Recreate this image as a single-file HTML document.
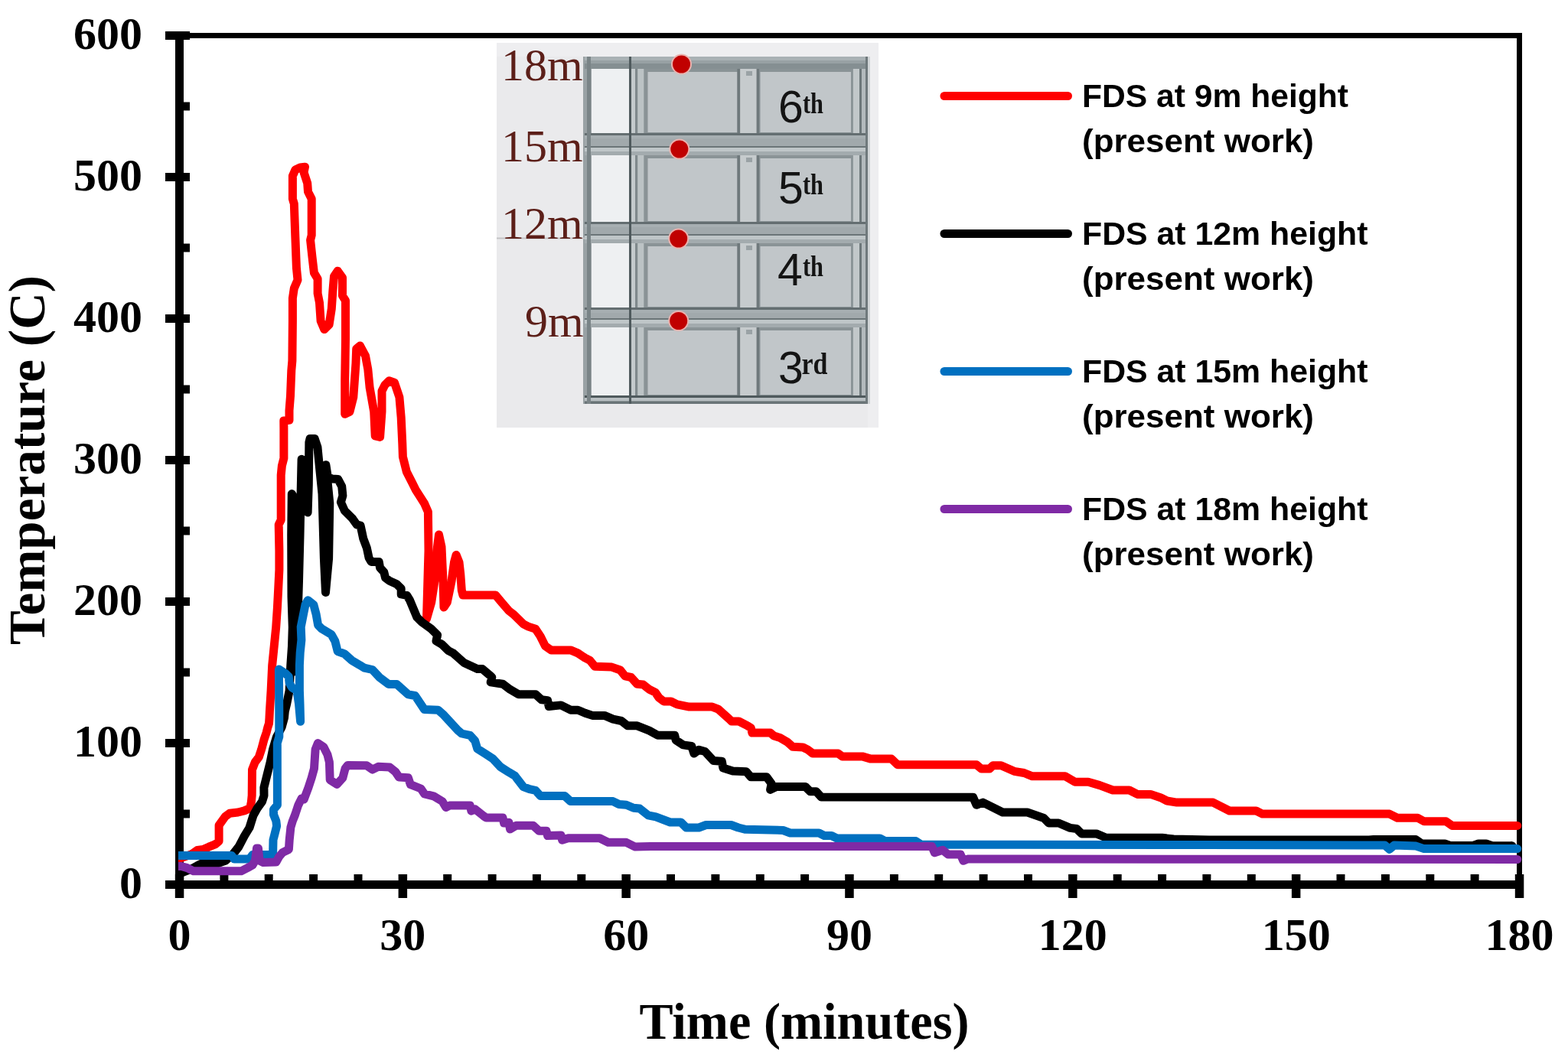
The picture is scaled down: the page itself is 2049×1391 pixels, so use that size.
<!DOCTYPE html><html><head><meta charset="utf-8"><title>Temperature vs Time</title>
<style>html,body{margin:0;padding:0;background:#fff;overflow:hidden;}svg{display:block;}.tk{font-family:"Liberation Serif",serif;font-weight:bold;font-size:60px;fill:#000;}.ttl{font-family:"Liberation Serif",serif;font-weight:bold;font-size:67px;fill:#000;}.lg{font-family:"Liberation Sans",sans-serif;font-weight:bold;font-size:43px;fill:#000;}.hm{font-family:"Liberation Serif",serif;font-size:60px;fill:#5c1f19;}.fl{font-family:"Liberation Sans",sans-serif;font-size:59px;fill:#141414;}.sup{font-family:"Liberation Serif",serif;font-weight:bold;font-size:38px;fill:#141414;}</style></head><body>
<svg width="2049" height="1391" viewBox="0 0 2049 1391">
<rect x="0" y="0" width="2049" height="1391" fill="#fff"/>
<g id="inset">
<rect x="649" y="56" width="499" height="503" fill="#eaeaec"/>
<rect x="649" y="56" width="499" height="18" fill="#eeeef0"/>
<rect x="1134" y="56" width="14" height="503" fill="#eeeef0"/>
<rect x="762" y="74" width="373" height="454" fill="#99a1a4"/>
<rect x="764" y="74" width="369" height="5" fill="#a9b1b4"/>
<rect x="764" y="79" width="369" height="4" fill="#98a1a4"/>
<rect x="764" y="83" width="369" height="7" fill="#858f92"/>
<rect x="764" y="174" width="369" height="3" fill="#646e71"/>
<rect x="764" y="177" width="369" height="4" fill="#a7afb2"/>
<rect x="764" y="181" width="369" height="10" fill="#a1a9ac"/>
<rect x="764" y="191" width="369" height="2" fill="#6b7578"/>
<rect x="764" y="193" width="369" height="5" fill="#bfc6c8"/>
<rect x="764" y="198" width="369" height="5" fill="#a3abae"/>
<rect x="764" y="290" width="369" height="3" fill="#646e71"/>
<rect x="764" y="293" width="369" height="4" fill="#a7afb2"/>
<rect x="764" y="297" width="369" height="9" fill="#a1a9ac"/>
<rect x="764" y="306" width="369" height="2" fill="#6b7578"/>
<rect x="764" y="308" width="369" height="5" fill="#bfc6c8"/>
<rect x="764" y="313" width="369" height="5" fill="#a3abae"/>
<rect x="764" y="402" width="369" height="3" fill="#646e71"/>
<rect x="764" y="405" width="369" height="4" fill="#a7afb2"/>
<rect x="764" y="409" width="369" height="7" fill="#a1a9ac"/>
<rect x="764" y="416" width="369" height="2" fill="#6b7578"/>
<rect x="764" y="418" width="369" height="5" fill="#bfc6c8"/>
<rect x="764" y="423" width="369" height="5" fill="#a3abae"/>
<rect x="764" y="517" width="369" height="3" fill="#4f5a5d"/>
<rect x="764" y="520" width="369" height="4.5" fill="#b8bfc2"/>
<rect x="764" y="524.5" width="369" height="3.5" fill="#6a7477"/>
<rect x="773" y="90" width="49" height="84" fill="#eef0f2"/>
<rect x="825" y="90" width="5" height="84" fill="#c4cacc"/>
<rect x="830" y="90" width="3.3" height="84" fill="#7f898c"/>
<rect x="833.3" y="90" width="8.2" height="84" fill="#bcc3c5"/>
<rect x="841.5" y="90" width="125.7" height="84" fill="#8a9396"/>
<rect x="846.5" y="94" width="117" height="79" fill="#c1c6c9"/>
<rect x="963.4" y="90" width="3.8" height="84" fill="#6f797c"/>
<rect x="967.2" y="90" width="21.5" height="84" fill="#c6cbcd"/>
<rect x="975" y="93" width="8" height="6" fill="#9aa2a5"/>
<rect x="988.7" y="90" width="3.8" height="84" fill="#6f797c"/>
<rect x="992.5" y="90" width="122" height="84" fill="#8a9396"/>
<rect x="993.5" y="94" width="118.5" height="79" fill="#c1c6c9"/>
<rect x="1115" y="90" width="8" height="84" fill="#c2c8ca"/>
<rect x="1123" y="90" width="3" height="84" fill="#6d777a"/>
<rect x="1126" y="90" width="5" height="84" fill="#b3babd"/>
<rect x="773" y="203" width="49" height="87" fill="#eef0f2"/>
<rect x="825" y="203" width="5" height="87" fill="#c4cacc"/>
<rect x="830" y="203" width="3.3" height="87" fill="#7f898c"/>
<rect x="833.3" y="203" width="8.2" height="87" fill="#bcc3c5"/>
<rect x="841.5" y="203" width="125.7" height="87" fill="#8a9396"/>
<rect x="846.5" y="207" width="117" height="82" fill="#c1c6c9"/>
<rect x="963.4" y="203" width="3.8" height="87" fill="#6f797c"/>
<rect x="967.2" y="203" width="21.5" height="87" fill="#c6cbcd"/>
<rect x="975" y="206" width="8" height="6" fill="#9aa2a5"/>
<rect x="988.7" y="203" width="3.8" height="87" fill="#6f797c"/>
<rect x="992.5" y="203" width="122" height="87" fill="#8a9396"/>
<rect x="993.5" y="207" width="118.5" height="82" fill="#c1c6c9"/>
<rect x="1115" y="203" width="8" height="87" fill="#c2c8ca"/>
<rect x="1123" y="203" width="3" height="87" fill="#6d777a"/>
<rect x="1126" y="203" width="5" height="87" fill="#b3babd"/>
<rect x="773" y="318" width="49" height="84" fill="#eef0f2"/>
<rect x="825" y="318" width="5" height="84" fill="#c4cacc"/>
<rect x="830" y="318" width="3.3" height="84" fill="#7f898c"/>
<rect x="833.3" y="318" width="8.2" height="84" fill="#bcc3c5"/>
<rect x="841.5" y="318" width="125.7" height="84" fill="#8a9396"/>
<rect x="846.5" y="322" width="117" height="79" fill="#c1c6c9"/>
<rect x="963.4" y="318" width="3.8" height="84" fill="#6f797c"/>
<rect x="967.2" y="318" width="21.5" height="84" fill="#c6cbcd"/>
<rect x="975" y="321" width="8" height="6" fill="#9aa2a5"/>
<rect x="988.7" y="318" width="3.8" height="84" fill="#6f797c"/>
<rect x="992.5" y="318" width="122" height="84" fill="#8a9396"/>
<rect x="993.5" y="322" width="118.5" height="79" fill="#c1c6c9"/>
<rect x="1115" y="318" width="8" height="84" fill="#c2c8ca"/>
<rect x="1123" y="318" width="3" height="84" fill="#6d777a"/>
<rect x="1126" y="318" width="5" height="84" fill="#b3babd"/>
<rect x="773" y="428" width="49" height="89" fill="#eef0f2"/>
<rect x="825" y="428" width="5" height="89" fill="#c4cacc"/>
<rect x="830" y="428" width="3.3" height="89" fill="#7f898c"/>
<rect x="833.3" y="428" width="8.2" height="89" fill="#bcc3c5"/>
<rect x="841.5" y="428" width="125.7" height="89" fill="#8a9396"/>
<rect x="846.5" y="432" width="117" height="84" fill="#c1c6c9"/>
<rect x="963.4" y="428" width="3.8" height="89" fill="#6f797c"/>
<rect x="967.2" y="428" width="21.5" height="89" fill="#c6cbcd"/>
<rect x="975" y="431" width="8" height="6" fill="#9aa2a5"/>
<rect x="988.7" y="428" width="3.8" height="89" fill="#6f797c"/>
<rect x="992.5" y="428" width="122" height="89" fill="#8a9396"/>
<rect x="993.5" y="432" width="118.5" height="84" fill="#c1c6c9"/>
<rect x="1115" y="428" width="8" height="89" fill="#c2c8ca"/>
<rect x="1123" y="428" width="3" height="89" fill="#6d777a"/>
<rect x="1126" y="428" width="5" height="89" fill="#b3babd"/>
<rect x="767" y="74" width="5" height="454" fill="#7a8487"/>
<rect x="822" y="74" width="3" height="454" fill="#4f5a5d"/>
<rect x="1131" y="74" width="3" height="454" fill="#6f797c"/>
<rect x="1134" y="74" width="3" height="454" fill="#d0d4d6"/>
<rect x="649" y="310.5" width="115" height="2" fill="#c4c4c6"/>
<text class="hm" x="655" y="105">18m</text>
<text class="hm" x="655" y="210.5">15m</text>
<text class="hm" x="655" y="312">12m</text>
<text class="hm" x="686" y="440">9m</text>
<text class="fl" x="1017" y="160">6</text>
<text class="sup" x="1049" y="147.5" textLength="27" lengthAdjust="spacingAndGlyphs">th</text>
<text class="fl" x="1017" y="266.3">5</text>
<text class="sup" x="1049" y="253.7" textLength="27" lengthAdjust="spacingAndGlyphs">th</text>
<text class="fl" x="1016" y="373">4</text>
<text class="sup" x="1049" y="361.0" textLength="27" lengthAdjust="spacingAndGlyphs">th</text>
<text class="fl" x="1017" y="501">3</text>
<text class="sup" x="1047.5" y="489.0" textLength="34" lengthAdjust="spacingAndGlyphs" style="font-size:41px">rd</text>
<circle cx="890.5" cy="84" r="13.5" fill="#eab2ae"/>
<circle cx="890.5" cy="84" r="11.5" fill="#c00000"/>
<circle cx="887.8" cy="195" r="13.5" fill="#eab2ae"/>
<circle cx="887.8" cy="195" r="11.5" fill="#c00000"/>
<circle cx="886.7" cy="312" r="13.5" fill="#eab2ae"/>
<circle cx="886.7" cy="312" r="11.5" fill="#c00000"/>
<circle cx="886.7" cy="419.5" r="13.5" fill="#eab2ae"/>
<circle cx="886.7" cy="419.5" r="11.5" fill="#c00000"/>
</g>
<g fill="#000">
<rect x="229" y="43" width="11" height="1131"/>
<rect x="229" y="43" width="1760" height="7"/>
<rect x="1982" y="43" width="7" height="1119"/>
<rect x="216" y="1151" width="1775" height="11"/>
<rect x="216" y="1151.0" width="32" height="11"/>
<rect x="216" y="966.0" width="32" height="11"/>
<rect x="216" y="781.0" width="32" height="11"/>
<rect x="216" y="596.0" width="32" height="11"/>
<rect x="216" y="411.0" width="32" height="11"/>
<rect x="216" y="226.0" width="32" height="11"/>
<rect x="216" y="41.0" width="32" height="11"/>
<rect x="240" y="1058.5" width="8" height="11"/>
<rect x="240" y="873.5" width="8" height="11"/>
<rect x="240" y="688.5" width="8" height="11"/>
<rect x="240" y="503.5" width="8" height="11"/>
<rect x="240" y="318.5" width="8" height="11"/>
<rect x="240" y="133.5" width="8" height="11"/>
<rect x="228.8" y="1143" width="11.5" height="31"/>
<rect x="520.6" y="1143" width="11.5" height="31"/>
<rect x="812.4" y="1143" width="11.5" height="31"/>
<rect x="1104.2" y="1143" width="11.5" height="31"/>
<rect x="1396.1" y="1143" width="11.5" height="31"/>
<rect x="1687.9" y="1143" width="11.5" height="31"/>
<rect x="1979.8" y="1143" width="11.5" height="31"/>
<rect x="287.4" y="1143" width="11" height="8"/>
<rect x="345.7" y="1143" width="11" height="8"/>
<rect x="404.1" y="1143" width="11" height="8"/>
<rect x="462.5" y="1143" width="11" height="8"/>
<rect x="579.2" y="1143" width="11" height="8"/>
<rect x="637.6" y="1143" width="11" height="8"/>
<rect x="695.9" y="1143" width="11" height="8"/>
<rect x="754.3" y="1143" width="11" height="8"/>
<rect x="871.0" y="1143" width="11" height="8"/>
<rect x="929.4" y="1143" width="11" height="8"/>
<rect x="987.8" y="1143" width="11" height="8"/>
<rect x="1046.1" y="1143" width="11" height="8"/>
<rect x="1162.9" y="1143" width="11" height="8"/>
<rect x="1221.2" y="1143" width="11" height="8"/>
<rect x="1279.6" y="1143" width="11" height="8"/>
<rect x="1338.0" y="1143" width="11" height="8"/>
<rect x="1454.7" y="1143" width="11" height="8"/>
<rect x="1513.1" y="1143" width="11" height="8"/>
<rect x="1571.4" y="1143" width="11" height="8"/>
<rect x="1629.8" y="1143" width="11" height="8"/>
<rect x="1746.5" y="1143" width="11" height="8"/>
<rect x="1804.9" y="1143" width="11" height="8"/>
<rect x="1863.3" y="1143" width="11" height="8"/>
<rect x="1921.6" y="1143" width="11" height="8"/>
</g>
<text class="tk" x="186" y="1174.0" text-anchor="end">0</text>
<text class="tk" x="186" y="989.0" text-anchor="end">100</text>
<text class="tk" x="186" y="804.0" text-anchor="end">200</text>
<text class="tk" x="186" y="619.0" text-anchor="end">300</text>
<text class="tk" x="186" y="434.0" text-anchor="end">400</text>
<text class="tk" x="186" y="249.0" text-anchor="end">500</text>
<text class="tk" x="186" y="64.0" text-anchor="end">600</text>
<text class="tk" x="234.5" y="1242" text-anchor="middle">0</text>
<text class="tk" x="526.3" y="1242" text-anchor="middle">30</text>
<text class="tk" x="818.2" y="1242" text-anchor="middle">60</text>
<text class="tk" x="1110.0" y="1242" text-anchor="middle">90</text>
<text class="tk" x="1401.8" y="1242" text-anchor="middle">120</text>
<text class="tk" x="1693.7" y="1242" text-anchor="middle">150</text>
<text class="tk" x="1985.5" y="1242" text-anchor="middle">180</text>
<text class="ttl" x="835.5" y="1358" textLength="431" lengthAdjust="spacingAndGlyphs">Time (minutes)</text>
<text class="ttl" transform="translate(58,843) rotate(-90)" x="0" y="0" textLength="483" lengthAdjust="spacingAndGlyphs">Temperature (C)</text>
<path d="M233.0,1121.5 L237.0,1121.5 L251.2,1116.3 L257.9,1111.4 L265.3,1110.5 L272.8,1107.2 L281.1,1103.9 L286.1,1099.8 L286.1,1079.0 L294.4,1067.4 L300.2,1063.2 L311.0,1062.0 L319.3,1059.9 L326.8,1056.6 L328.4,1048.3 L329.2,1040.0 L329.5,1006.3 L333.3,996.4 L338.3,989.8 L341.6,979.8 L344.9,967.3 L348.2,957.4 L349.9,950.7 L351.5,945.8 L352.0,938.3 L352.4,930.0 L354.1,903.0 L355.7,869.8 L358.2,844.9 L360.7,820.0 L362.4,794.7 L363.7,769.8 L364.9,744.9 L364.9,720.0 L364.2,685.9 L367.2,679.8 L367.2,621.1 L368.4,608.9 L370.9,599.1 L370.9,560.0 L370.8,550.0 L378.0,549.2 L378.0,536.6 L379.5,517.6 L380.8,484.4 L381.9,471.7 L382.4,420.0 L382.4,389.8 L384.3,377.0 L389.0,366.0 L387.4,350.0 L385.9,310.7 L384.3,266.4 L382.4,260.0 L382.4,230.0 L385.9,222.0 L392.2,219.0 L398.5,218.2 L397.0,225.3 L401.7,239.5 L402.5,250.6 L407.2,260.0 L407.2,307.5 L405.6,313.9 L408.0,336.0 L410.4,356.6 L415.1,364.5 L415.1,383.5 L417.5,395.8 L419.1,419.5 L423.8,430.6 L430.1,424.3 L433.3,403.7 L434.9,380.0 L436.5,361.3 L441.2,354.2 L447.5,362.9 L447.5,386.6 L451.5,393.0 L451.5,443.3 L450.7,498.6 L450.7,541.3 L457.0,538.2 L461.8,519.2 L465.0,474.9 L465.7,455.9 L470.5,452.0 L477.6,465.4 L480.8,482.8 L483.1,506.5 L488.7,538.2 L490.2,569.8 L496.6,571.4 L499.0,538.2 L499.0,511.3 L502.9,503.4 L508.4,497.8 L515.5,500.2 L521.9,519.2 L524.2,546.0 L525.8,580.0 L526.4,597.1 L531.3,616.7 L538.7,631.3 L543.6,641.1 L548.4,648.4 L554.6,658.2 L559.4,669.2 L560.0,720.0 L557.5,809.0 L563.7,787.5 L568.5,755.8 L571.5,715.0 L573.5,699.0 L577.0,715.0 L579.0,760.0 L580.0,794.0 L584.3,787.5 L590.0,760.0 L593.5,735.0 L596.1,725.4 L600.0,735.0 L601.7,750.0 L603.3,771.6 L604.9,778.0 L647.6,778.0 L655.5,787.5 L665.0,798.5 L671.3,803.3 L684.0,815.9 L690.3,819.1 L699.8,822.3 L706.1,831.7 L712.4,844.4 L720.3,849.9 L745.6,849.9 L755.1,853.9 L764.6,860.2 L770.9,863.4 L777.3,871.3 L799.4,872.1 L810.5,876.0 L816.8,883.9 L824.7,885.5 L832.6,894.2 L840.5,895.0 L848.4,901.3 L856.3,905.1 L861.1,912.2 L867.4,917.0 L876.9,917.0 L884.8,920.9 L900.6,924.1 L930.7,924.1 L938.6,927.2 L952.8,939.9 L956.0,943.0 L965.5,943.0 L976.5,948.6 L981.3,951.7 L982.9,958.1 L1006.6,958.1 L1011.3,962.0 L1019.3,964.4 L1028.7,969.9 L1035.9,976.3 L1049.3,977.0 L1055.6,980.2 L1062.0,985.0 L1095.2,985.0 L1100.7,988.9 L1126.8,988.9 L1137.9,992.1 L1164.8,992.1 L1172.9,999.7 L1276.0,999.7 L1282.4,1005.1 L1293.1,1005.1 L1297.4,1000.8 L1308.2,1000.8 L1325.3,1008.3 L1338.2,1010.5 L1349.0,1014.8 L1391.9,1014.8 L1404.8,1022.3 L1422.0,1022.3 L1437.0,1026.6 L1454.2,1033.0 L1475.7,1033.0 L1486.4,1038.4 L1503.6,1038.4 L1516.5,1042.7 L1525.0,1047.0 L1537.9,1049.1 L1585.2,1049.1 L1606.6,1060.0 L1641.5,1060.0 L1649.7,1064.1 L1815.7,1064.1 L1826.0,1069.2 L1852.6,1069.2 L1860.8,1073.7 L1889.5,1073.7 L1897.7,1079.4 L1982.7,1079.4" fill="none" stroke="#ff0000" stroke-width="11" stroke-linejoin="round" stroke-linecap="butt"/>
<circle cx="1982.7" cy="1079.4" r="5.5" fill="#ff0000"/>
<path d="M233.0,1141.0 L237.0,1141.0 L250.0,1136.0 L262.0,1129.5 L285.0,1128.5 L295.0,1125.0 L305.0,1116.0 L312.0,1107.0 L319.3,1093.0 L326.0,1082.0 L331.0,1066.0 L336.0,1057.0 L342.5,1048.0 L345.0,1040.0 L344.9,1029.6 L349.0,1013.0 L353.2,996.4 L356.5,979.8 L361.5,963.2 L368.1,950.7 L371.5,938.3 L372.3,930.0 L374.8,919.6 L378.1,903.0 L379.8,869.8 L381.5,844.9 L382.3,820.0 L381.0,780.0 L380.7,700.0 L381.3,645.6 L385.0,652.0 L387.5,700.0 L387.5,790.0 L386.0,850.0 L384.5,878.0 L388.0,840.0 L390.5,760.0 L392.0,700.0 L393.0,650.0 L394.1,600.3 L396.6,601.6 L402.7,621.1 L402.1,670.0 L403.3,633.3 L403.9,578.3 L405.1,573.4 L411.2,573.4 L414.9,584.4 L417.3,608.9 L421.0,645.6 L423.4,730.0 L425.5,774.4 L429.6,730.0 L430.8,657.8 L425.9,607.7 L428.3,623.6 L434.4,626.0 L441.8,626.6 L446.7,635.8 L447.9,648.0 L445.4,656.6 L450.3,667.6 L460.1,677.3 L466.2,685.9 L471.1,687.1 L472.8,695.0 L474.7,704.0 L479.3,716.2 L482.1,729.3 L485.0,734.4 L495.2,734.4 L496.6,742.3 L501.8,748.0 L503.6,755.4 L509.3,759.6 L518.6,763.8 L524.2,769.4 L524.2,776.9 L531.7,778.3 L535.4,784.4 L540.1,795.6 L544.8,806.8 L551.3,813.4 L563.7,822.3 L571.6,830.2 L570.0,838.1 L578.0,842.8 L585.9,850.7 L592.2,853.9 L606.4,866.5 L623.8,874.5 L630.2,874.5 L639.7,882.4 L642.8,885.5 L641.2,891.9 L657.0,894.2 L666.5,901.3 L677.6,907.7 L699.8,907.7 L707.7,914.8 L715.6,915.6 L717.2,923.5 L733.0,921.9 L745.6,928.2 L755.1,928.2 L764.6,932.2 L774.1,935.4 L789.9,935.4 L801.0,940.1 L812.1,942.5 L820.0,948.8 L832.6,948.8 L848.4,955.1 L859.5,961.2 L881.6,961.2 L883.2,967.6 L892.7,973.9 L903.8,975.5 L906.9,985.0 L913.3,980.2 L921.2,982.6 L932.3,994.5 L943.3,995.2 L944.9,1003.9 L957.6,1007.9 L975.0,1008.7 L981.3,1015.8 L1001.8,1015.8 L1008.2,1024.5 L1006.6,1032.4 L1014.5,1028.5 L1052.5,1028.5 L1058.8,1034.8 L1066.7,1034.8 L1073.0,1041.9 L1271.6,1042.2 L1276.0,1052.3 L1284.5,1049.1 L1310.3,1062.0 L1342.5,1062.0 L1364.0,1069.5 L1370.4,1076.0 L1383.3,1076.0 L1398.4,1082.4 L1406.9,1083.5 L1413.4,1089.9 L1432.7,1089.9 L1445.6,1095.3 L1518.6,1095.3 L1533.6,1097.0 L1580.0,1098.0 L1789.0,1098.0 L1795.0,1097.5 L1850.0,1097.5 L1858.0,1103.0 L1888.0,1103.0 L1895.0,1105.5 L1925.0,1105.5 L1932.0,1103.0 L1942.0,1103.0 L1950.0,1105.8 L1976.0,1105.8" fill="none" stroke="#000000" stroke-width="11" stroke-linejoin="round" stroke-linecap="butt"/>
<circle cx="1976.0" cy="1105.8" r="5.5" fill="#000000"/>
<path d="M233.0,1118.4 L237.0,1118.4 L302.7,1118.4 L306.0,1123.0 L325.9,1123.0 L330.0,1117.6 L356.6,1117.6 L357.0,1098.0 L359.1,1089.8 L361.6,1079.8 L360.8,1073.2 L357.5,1064.9 L357.5,1058.3 L362.4,1052.4 L362.4,1040.0 L362.3,971.5 L364.8,963.2 L364.8,930.0 L364.4,875.0 L373.2,880.6 L377.3,884.7 L378.1,893.0 L381.5,898.8 L388.0,903.0 L390.5,920.0 L392.6,943.3 L392.0,920.0 L391.4,903.0 L391.4,869.8 L392.2,853.2 L393.9,836.6 L393.2,819.6 L396.5,803.0 L399.0,790.5 L402.3,784.7 L409.8,790.5 L413.1,803.0 L415.6,817.1 L420.5,822.1 L433.0,829.5 L437.9,838.3 L441.2,851.5 L450.3,854.9 L459.5,863.2 L470.0,869.4 L476.0,873.2 L486.6,875.5 L495.7,885.3 L507.7,894.4 L518.3,894.4 L533.4,907.9 L542.5,909.5 L554.6,927.6 L572.7,928.3 L578.7,933.6 L598.3,954.8 L603.3,959.0 L614.3,961.4 L620.7,968.5 L623.8,978.8 L634.9,985.9 L644.4,992.2 L653.9,1002.5 L665.0,1009.6 L672.9,1014.3 L683.9,1028.6 L691.9,1031.7 L699.8,1033.3 L706.1,1040.4 L737.7,1040.4 L745.6,1047.6 L801.0,1047.6 L808.9,1051.5 L818.4,1052.3 L827.9,1056.3 L835.8,1057.0 L846.9,1065.8 L857.0,1067.9 L875.8,1075.0 L889.8,1075.0 L896.8,1082.0 L913.2,1082.0 L922.6,1078.5 L955.4,1078.5 L964.8,1082.0 L974.2,1084.3 L1023.3,1085.5 L1032.7,1089.0 L1070.2,1089.0 L1077.2,1092.5 L1086.6,1092.5 L1093.6,1096.0 L1149.8,1096.0 L1156.9,1099.6 L1196.7,1099.6 L1203.7,1104.2 L1330.0,1104.2 L1580.0,1104.5 L1809.6,1105.0 L1815.7,1110.2 L1821.9,1105.0 L1850.5,1106.1 L1860.8,1109.6 L1982.7,1109.6" fill="none" stroke="#0070c0" stroke-width="11" stroke-linejoin="round" stroke-linecap="butt"/>
<circle cx="1982.7" cy="1109.6" r="5.5" fill="#0070c0"/>
<path d="M233.0,1132.5 L237.0,1132.5 L244.6,1134.6 L252.9,1138.8 L315.1,1138.8 L323.4,1134.6 L330.0,1131.0 L333.5,1125.0 L335.5,1109.0 L337.5,1109.0 L339.0,1125.0 L344.0,1127.5 L360.8,1127.1 L364.9,1119.7 L369.1,1114.7 L377.4,1110.5 L378.2,1098.1 L379.9,1081.5 L382.4,1073.2 L385.7,1064.9 L389.8,1052.4 L394.0,1044.1 L397.2,1045.0 L403.0,1029.6 L407.1,1017.1 L410.5,1004.7 L412.1,979.8 L415.4,971.5 L422.9,976.5 L427.9,986.4 L430.4,996.4 L431.2,1019.6 L440.3,1025.4 L447.8,1017.1 L451.1,1004.7 L454.4,1000.5 L479.1,1000.8 L486.6,1006.1 L494.2,1002.3 L509.3,1003.1 L516.8,1009.1 L521.3,1015.9 L533.4,1016.7 L536.4,1025.7 L550.0,1031.0 L554.6,1037.8 L566.6,1040.8 L578.0,1047.6 L582.7,1055.5 L587.5,1053.1 L614.3,1053.1 L615.9,1060.2 L620.7,1057.8 L631.7,1066.5 L634.9,1068.9 L657.0,1068.9 L658.6,1076.0 L665.0,1075.2 L666.5,1083.9 L674.5,1079.2 L696.6,1079.2 L704.5,1086.3 L714.0,1086.3 L715.6,1092.6 L733.0,1091.9 L734.6,1098.2 L742.5,1095.8 L783.6,1095.8 L794.7,1101.3 L818.4,1101.3 L829.5,1106.9 L850.0,1106.6 L1217.8,1106.6 L1221.3,1114.8 L1231.8,1111.3 L1238.9,1117.1 L1255.2,1117.1 L1258.8,1125.3 L1264.6,1123.0 L1330.0,1123.0 L1600.0,1123.2 L1982.7,1123.5" fill="none" stroke="#7f2aa5" stroke-width="11" stroke-linejoin="round" stroke-linecap="butt"/>
<circle cx="1982.7" cy="1123.5" r="5.5" fill="#7f2aa5"/>
<line x1="1234" y1="125.5" x2="1395.5" y2="125.5" stroke="#ff0000" stroke-width="11" stroke-linecap="round"/>
<text class="lg" x="1414" y="139.5" textLength="348" lengthAdjust="spacingAndGlyphs">FDS at 9m height</text>
<text class="lg" x="1414" y="199.0" textLength="303" lengthAdjust="spacingAndGlyphs">(present work)</text>
<line x1="1234" y1="305.5" x2="1395.5" y2="305.5" stroke="#000000" stroke-width="11" stroke-linecap="round"/>
<text class="lg" x="1414" y="319.5" textLength="373.5" lengthAdjust="spacingAndGlyphs">FDS at 12m height</text>
<text class="lg" x="1414" y="379.0" textLength="303" lengthAdjust="spacingAndGlyphs">(present work)</text>
<line x1="1234" y1="485.5" x2="1395.5" y2="485.5" stroke="#0070c0" stroke-width="11" stroke-linecap="round"/>
<text class="lg" x="1414" y="499.5" textLength="373.5" lengthAdjust="spacingAndGlyphs">FDS at 15m height</text>
<text class="lg" x="1414" y="559.0" textLength="303" lengthAdjust="spacingAndGlyphs">(present work)</text>
<line x1="1234" y1="665.5" x2="1395.5" y2="665.5" stroke="#7f2aa5" stroke-width="11" stroke-linecap="round"/>
<text class="lg" x="1414" y="679.5" textLength="373.5" lengthAdjust="spacingAndGlyphs">FDS at 18m height</text>
<text class="lg" x="1414" y="739.0" textLength="303" lengthAdjust="spacingAndGlyphs">(present work)</text>
</svg></body></html>
